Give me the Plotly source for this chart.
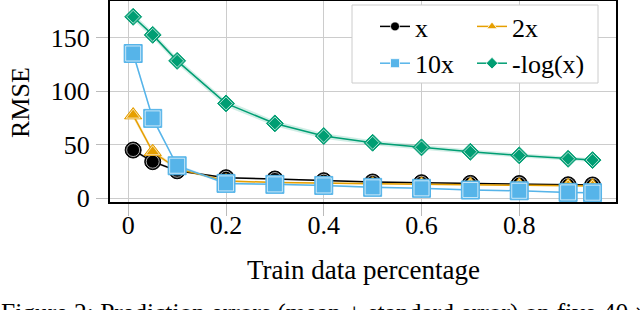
import plotly.graph_objects as go

# ---- data ----
train_pct = [0.01, 0.05, 0.1, 0.2, 0.3, 0.4, 0.5, 0.6, 0.7, 0.8, 0.9, 0.95]
rmse_x = [44.9, 34.0, 25.5, 19.0, 17.8, 16.2, 15.0, 14.3, 13.7, 13.5, 12.4, 12.2]
rmse_2x = [77.6, 43.3, 27.5, 16.0, 14.5, 13.8, 13.0, 12.8, 12.5, 12.0, 11.5, 11.2]
rmse_10x = [135.2, 74.5, 30.2, 13.7, 12.8, 11.8, 10.0, 9.1, 7.5, 6.8, 5.3, 5.0]
rmse_log = [169.5, 152.6, 128.3, 88.5, 69.8, 58.0, 51.7, 47.4, 43.3, 39.9, 36.7, 35.5]
se_x = [1.6, 1.3, 1.0, 0.8, 0.7, 0.7, 0.6, 0.6, 0.6, 0.5, 0.5, 0.5]
se_2x = [3.0, 2.2, 1.5, 1.0, 0.9, 0.8, 0.7, 0.7, 0.6, 0.6, 0.6, 0.6]
se_10x = [2.5, 2.0, 1.5, 1.0, 0.9, 0.8, 0.8, 0.7, 0.7, 0.6, 0.6, 0.6]
se_log = [3.0, 3.0, 3.0, 2.8, 2.6, 2.5, 2.3, 2.2, 2.0, 2.0, 1.8, 1.8]
series_names = ["x", "2x", "10x", "-log(x)"]
x_ticks = [0, 0.2, 0.4, 0.6, 0.8]
x_ticktext = ["0", "0.2", "0.4", "0.6", "0.8"]
y_ticks = [0, 50, 100, 150]
x_range = [-0.0374, 0.998]
y_range = [-3.7, 184.3]

FONT = "Liberation Serif"
colors = ["#000000", "#E69F00", "#56B4E9", "#009E73"]
band_colors = ["rgba(0,0,0,0.15)", "rgba(230,159,0,0.2)", "rgba(86,180,233,0.2)", "rgba(0,158,115,0.18)"]
symbols = ["circle", "triangle-up", "square", "diamond"]
sizes = [16, 15, 18, 13]
legend_ids = ["legend", "legend2", "legend", "legend2"]

fig = go.Figure()
all_vals = [rmse_x, rmse_2x, rmse_10x, rmse_log]
all_se = [se_x, se_2x, se_10x, se_log]
for name, vals, se, c, bc, sym, sz, lg in zip(series_names, all_vals, all_se, colors,
                                               band_colors, symbols, sizes, legend_ids):
    upper = [v + s for v, s in zip(vals, se)]
    lower = [v - s for v, s in zip(vals, se)]
    fig.add_trace(go.Scatter(x=train_pct + train_pct[::-1], y=upper + lower[::-1],
                             fill="toself", fillcolor=bc, line=dict(width=0),
                             mode="lines", showlegend=False, hoverinfo="skip"))
    fig.add_trace(go.Scatter(x=train_pct, y=vals, mode="lines+markers", showlegend=False,
                             line=dict(color=c, width=1.5),
                             marker=dict(symbol=sym, size=sz, color=c,
                                         line=dict(color=c, width=1))))
    fig.add_trace(go.Scatter(x=train_pct, y=vals, mode="markers", showlegend=False,
                             marker=dict(symbol=sym, size=sz - 3, color=c,
                                         line=dict(color="rgba(255,255,255,0.85)", width=0.8))))
    # legend-only entry
    fig.add_trace(go.Scatter(x=[None], y=[None], mode="lines+markers", name=name, legend=lg,
                             line=dict(color=c, width=1.5),
                             marker=dict(symbol=sym, size=9, color=c,
                                         line=dict(color="white", width=0.8))))

# invisible trace to host the label-only overlay axes
fig.add_trace(go.Scatter(x=[None], y=[None], xaxis="x2", yaxis="y2", showlegend=False,
                         hoverinfo="skip"))

L, R, T, B = 110, 24, 1, 108
W, H = 640, 310
pw, ph = W - L - R, H - T - B

def px2x(p):
    return (p - L) / pw

def py2y(p):
    return 1 - (p - T) / ph

legend_common = dict(font=dict(family=FONT, size=26, color="black"), bgcolor="rgba(0,0,0,0)",
                     borderwidth=0, yanchor="top", xanchor="left", orientation="v",
                     tracegroupgap=0)
fig.update_layout(
    width=W, height=H, margin=dict(l=L, r=R, t=T, b=B, autoexpand=False),
    plot_bgcolor="white", paper_bgcolor="white",
    font=dict(family=FONT, size=26, color="black"),
    legend=dict(x=px2x(375), y=py2y(3), **legend_common),
    legend2=dict(x=px2x(472), y=py2y(3), **legend_common),
    shapes=[dict(type="rect", xref="paper", yref="paper", x0=px2x(352), x1=px2x(598),
                 y0=py2y(83), y1=py2y(5), fillcolor="white",
                 line=dict(color="#cccccc", width=1), layer="above")],
    annotations=[
        dict(text="Train data percentage", xref="paper", yref="paper", x=0.5, y=py2y(270),
             xanchor="center", yanchor="middle", showarrow=False,
             font=dict(family=FONT, size=27, color="black")),
        dict(text="RMSE", textangle=-90, xref="paper", yref="paper", x=px2x(20), y=py2y(103),
             xanchor="center", yanchor="middle", showarrow=False,
             font=dict(family=FONT, size=26, color="black")),
        dict(text="Figure 2: Prediction errors (mean ± standard error) on five 40 ×",
             xref="paper", yref="paper", x=px2x(-1), y=py2y(296),
             xanchor="left", yanchor="top", showarrow=False,
             font=dict(family=FONT, size=25.5, color="black")),
    ],
    xaxis=dict(range=x_range, tickvals=x_ticks, showticklabels=False,
               showgrid=True, gridcolor="#cccccc", gridwidth=1, zeroline=False, automargin=False,
               ticks="outside", ticklen=12, tickcolor="#bbbbbb", tickwidth=1,
               showline=True, linecolor="black", linewidth=1.5, mirror=True),
    yaxis=dict(range=y_range, tickvals=y_ticks, showticklabels=False,
               showgrid=True, gridcolor="#cccccc", gridwidth=1, zeroline=False, automargin=False,
               ticks="outside", ticklen=12, tickcolor="#bbbbbb", tickwidth=1,
               showline=True, linecolor="black", linewidth=1.5, mirror=True),
    xaxis2=dict(overlaying="x", anchor="y2", side="bottom", range=x_range, tickvals=x_ticks,
                ticktext=x_ticktext, showgrid=False, zeroline=False, showline=False,
                automargin=False, ticks="outside", ticklen=0, tickcolor="rgba(0,0,0,0)",
                tickfont=dict(family=FONT, size=26, color="black")),
    yaxis2=dict(overlaying="y", anchor="x2", side="left", range=y_range, tickvals=y_ticks,
                showgrid=False, zeroline=False, showline=False,
                automargin=False, ticks="outside", ticklen=14, tickcolor="rgba(0,0,0,0)",
                tickfont=dict(family=FONT, size=26, color="black")),
)

fig.write_html("out.html", config={"displayModeBar": False},
               post_script="document.body.style.margin='0';document.body.style.overflow='hidden';")
